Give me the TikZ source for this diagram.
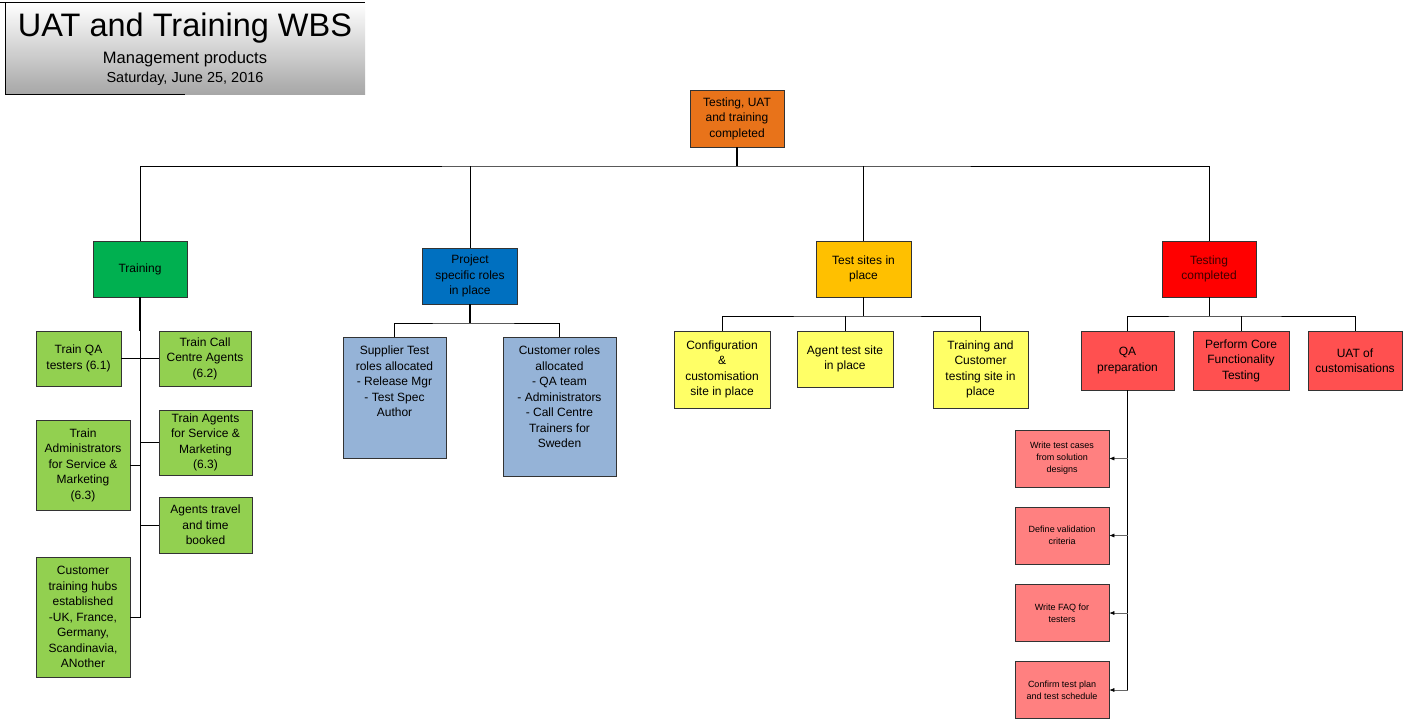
\documentclass[tikz,border=0pt]{standalone}
\usepackage{fontspec}
\setmainfont{Liberation Sans}
\usetikzlibrary{arrows.meta}
\definecolor{orng}{HTML}{E8731A}
\definecolor{dgrn}{HTML}{00B050}
\definecolor{lgrn}{HTML}{92D050}
\definecolor{dblu}{HTML}{0070C0}
\definecolor{lblu}{HTML}{95B3D7}
\definecolor{gold}{HTML}{FFC000}
\definecolor{lyel}{HTML}{FFFF66}
\definecolor{dred}{HTML}{FF0000}
\definecolor{mred}{HTML}{FF5050}
\definecolor{pred}{HTML}{FF8080}
\begin{document}
\begin{tikzpicture}[x=1pt,y=-1pt,
 box/.style={draw=black!80,line width=0.6pt,inner sep=0pt,align=center,font=\fontsize{12}{15.5}\selectfont},
 sbox/.style={box,font=\fontsize{9}{12}\selectfont},
 ln/.style={line width=0.6pt},
 tk/.style={line width=1.3pt},
 arr/.style={line width=0.6pt,draw=black!60,-{Latex[length=5pt,width=4pt,black]}}]
\useasboundingbox (0,0) rectangle (1410,727);
\fill[white] (0,0) rectangle (1410,727);
% title
\shade[top color=white,bottom color=black!35] (5,3) rectangle (365,95);
\draw[line width=1pt] (0,3) -- (365,3);
\draw[line width=1pt] (5,3) -- (5,95) -- (185,95);
\node (title) at (185,28) {\fontsize{32.5}{36}\selectfont UAT and Training WBS};
\node (sub) at (185,59) {\fontsize{16.5}{18}\selectfont Management products};
\node (date) at (185,79) {\fontsize{14.5}{16}\selectfont Saturday, June 25, 2016};
% root
\node[box,fill=orng,minimum width=94pt,minimum height=57pt] (root) at (737,118.5) {Testing, UAT\\and training\\completed};
\node[box,fill=dgrn,minimum width=94pt,minimum height=56pt] (tr) at (140,269) {Training};
\node[box,fill=dblu,minimum width=95pt,minimum height=56pt] (pr) at (470,276) {Project\\specific roles\\in place};
\node[box,fill=gold,minimum width=95pt,minimum height=56pt] (ts) at (863.5,269) {Test sites in\\place};
\node[box,fill=dred,text=black!75!red,minimum width=94pt,minimum height=56pt] (tc) at (1209,269) {Testing\\completed};
\coordinate (bus) at (737,166);
\draw[tk] (root.south) -- (bus);
\draw[ln] (tr.north) |- (bus) -| (tc.north);
\draw[ln] (pr.north) -- (470,166);
\draw[ln] (ts.north) -- (863.5,166);
% training children
\node[box,fill=lgrn,minimum width=85pt,minimum height=55pt] (qa) at (78.5,358.5) {Train QA\\testers (6.1)};
\node[box,fill=lgrn,minimum width=94pt,minimum height=90pt] (adm) at (83,465) {Train\\Administrators\\for Service \&\\Marketing\\(6.3)};
\node[box,fill=lgrn,minimum width=94pt,minimum height=120pt] (hub) at (83,617) {Customer\\training hubs\\established\\-UK, France,\\Germany,\\Scandinavia,\\ANother};
\node[box,fill=lgrn,minimum width=92pt,minimum height=55pt] (cc) at (205,358.5) {Train Call\\Centre Agents\\(6.2)};
\node[box,fill=lgrn,minimum width=93pt,minimum height=65pt] (ag) at (205.5,442.5) {Train Agents\\for Service \&\\Marketing\\(6.3)};
\node[box,fill=lgrn,minimum width=93pt,minimum height=56pt] (tv) at (205.5,525) {Agents travel\\and time\\booked};
\coordinate (tb) at (140,617);
\draw[tk] (tr.south) -- (140,331);
\draw[ln] (140,331) -- (tb) -- (hub.east);
\draw[ln] (qa.east) -- (140,358.5) (adm.east) -- (140,465);
\draw[ln] (cc.west) -- (140,358.5) (ag.west) -- (140,442.5) (tv.west) -- (140,525);
% project children
\node[box,fill=lblu,minimum width=103pt,minimum height=121pt,anchor=north] (sup) at (394.5,337) {};
\node[box,anchor=north,draw=none] at (394.5,346) {Supplier Test\\roles allocated\\- Release Mgr\\- Test Spec\\Author};
\node[box,fill=lblu,minimum width=113pt,minimum height=139pt,anchor=north] (cus) at (559.5,337) {};
\node[box,anchor=north,draw=none] at (559.5,346) {Customer roles\\allocated\\- QA team\\- Administrators\\- Call Centre\\Trainers for\\Sweden};
\draw[tk] (pr.south) -- (470,323);
\draw[ln] (sup.north) |- (470,323) -| (cus.north);
% test sites children
\node[box,fill=lyel,minimum width=96pt,minimum height=77pt] (cfg) at (722,369.5) {Configuration\\\&\\customisation\\site in place};
\node[box,fill=lyel,minimum width=96pt,minimum height=56pt] (ags) at (845,359) {Agent test site\\in place};
\node[box,fill=lyel,minimum width=95pt,minimum height=77pt] (tcs) at (980.5,369.5) {Training and\\Customer\\testing site in\\place};
\draw[ln] (ts.south) -- (863.5,316);
\draw[ln] (cfg.north) |- (863.5,316) -| (tcs.north);
\draw[ln] (ags.north) -- (845,316);
% testing children
\node[box,fill=mred,minimum width=93pt,minimum height=59pt] (qap) at (1127.5,360.5) {QA\\preparation};
\node[box,fill=mred,minimum width=96pt,minimum height=59pt] (pcf) at (1241,360.5) {Perform Core\\Functionality\\Testing};
\node[box,fill=mred,minimum width=94pt,minimum height=59pt] (uat) at (1355,360.5) {UAT of\\customisations};
\draw[ln] (tc.south) -- (1209,316);
\draw[ln] (qap.north) |- (1209,316) -| (uat.north);
\draw[ln] (pcf.north) -- (1241,316);
% QA prep children
\node[sbox,fill=pred,minimum width=94pt,minimum height=57pt] (w1) at (1062,458.5) {Write test cases\\from solution\\designs};
\node[sbox,fill=pred,minimum width=94pt,minimum height=57pt] (w2) at (1062,535.5) {Define validation\\criteria};
\node[sbox,fill=pred,minimum width=94pt,minimum height=57pt] (w3) at (1062,613) {Write FAQ for\\testers};
\node[sbox,fill=pred,minimum width=94pt,minimum height=57pt] (w4) at (1062,690) {Confirm test plan\\and test schedule};
\draw[line width=1.3pt] (qap.south) -- (1127.5,690);
\foreach \n in {w1,w2,w3,w4}{\draw[arr] (1127.5,0 |- \n.east) -- (\n.east);}
\end{tikzpicture}
\end{document}
